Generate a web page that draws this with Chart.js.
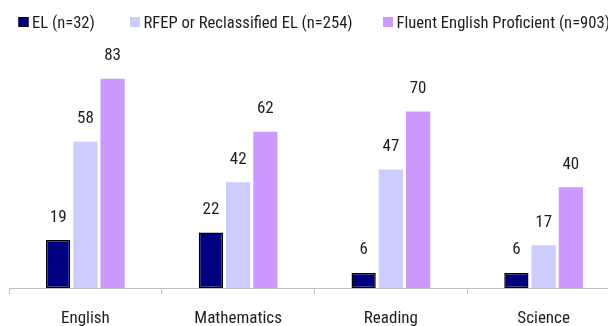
<!DOCTYPE html>
<html>
<head>
<meta charset="utf-8">
<script src="https://cdn.jsdelivr.net/npm/chart.js@4"></script>
<style>
  html, body { margin:0; padding:0; background:#fff; overflow:hidden; }
</style>
</head>
<body>
<canvas id="chart" width="622" height="326"></canvas>
<script>
const subjects = ["English", "Mathematics", "Reading", "Science"];
const groupNames = ["EL (n=32)", "RFEP or Reclassified EL (n=254)", "Fluent English Proficient (n=903)"];
const elScores = [19, 22, 6, 6];
const rfepScores = [58, 42, 47, 17];
const fluentScores = [83, 62, 70, 40];

// narrow face: Roboto with font-stretch condensed (passed through the weight slot)
const FAMILY = "Roboto, 'Liberation Sans', sans-serif";
const NARROW = 'condensed';
const TEXT = '#1e1e1e';

// value labels above each bar
const barValues = {
  id: 'barValues',
  afterDatasetsDraw(chart) {
    const c = chart.ctx;
    c.save();
    c.font = 'condensed 17px ' + FAMILY;
    c.fillStyle = TEXT;
    c.textAlign = 'center';
    c.textBaseline = 'alphabetic';
    chart.data.datasets.forEach((ds, i) => {
      chart.getDatasetMeta(i).data.forEach((bar, j) => {
        c.fillText(ds.data[j], bar.x, bar.y - 18.5);
      });
    });
    c.restore();
  }
};

// one-row legend across the top, items at fixed columns
const legendRow = {
  id: 'legendRow',
  afterDraw(chart) {
    const c = chart.ctx;
    const cols = [18.5, 130, 383];
    c.save();
    c.font = 'condensed 16.6px ' + FAMILY;
    c.textBaseline = 'alphabetic';
    chart.data.datasets.forEach((ds, i) => {
      const x = cols[i];
      c.fillStyle = ds.backgroundColor;
      c.fillRect(x, 17, 10, 10);
      if (ds.borderWidth) {
        c.strokeStyle = ds.borderColor;
        c.lineWidth = 1;
        c.strokeRect(x + 0.5, 17.5, 9, 9);
      }
      c.fillStyle = TEXT;
      c.fillText(ds.label, x + 13.5, 27.5);
    });
    c.restore();
  }
};

let ctx = document.getElementById('chart').getContext('2d');
let chart = new Chart(ctx, {
  type: 'bar',
  data: {
    labels: subjects,
    datasets: [
      { label: groupNames[0], data: elScores, backgroundColor: '#000080', borderColor: '#000', borderWidth: 1.5, borderSkipped: false },
      { label: groupNames[1], data: rfepScores, backgroundColor: '#ccccff', borderWidth: 0 },
      { label: groupNames[2], data: fluentScores, backgroundColor: '#cc99ff', borderWidth: 0 }
    ]
  },
  options: {
    responsive: false,
    animation: false,
    devicePixelRatio: 1,
    layout: { padding: { left: 9, right: 2, top: 36, bottom: 0 } },
    datasets: { bar: { categoryPercentage: 0.535, barPercentage: 0.89 } },
    plugins: {
      legend: { display: false },
      tooltip: { enabled: false }
    },
    scales: {
      x: {
        afterFit(scale) { scale.height = 38; },
        grid: { drawOnChartArea: false, drawTicks: true, tickLength: 6, color: '#c0c0c0' },
        border: { color: '#c0c0c0' },
        ticks: { color: TEXT, padding: 15, font: { family: FAMILY, weight: NARROW, size: 17 } }
      },
      y: {
        display: false,
        min: 0,
        max: 100
      }
    }
  },
  plugins: [barValues, legendRow]
});
</script>
</body>
</html>
